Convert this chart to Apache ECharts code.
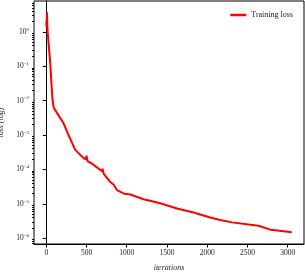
<!DOCTYPE html>
<html><head><meta charset="utf-8">
<script src="https://cdn.jsdelivr.net/npm/echarts@6/dist/echarts.min.js"></script>
<style>html,body{margin:0;padding:0;background:#fff}#c{width:305px;height:273px}</style>
</head><body><div id="c"></div>
<script>
// ---- data ----
const iterations = [0, 4, 8, 16, 50, 75, 91, 112, 174, 215, 277, 360, 463, 490, 500, 512, 568, 692, 700, 712, 795, 836, 878, 960, 1043, 1209, 1416, 1624, 1830, 2037, 2161, 2307, 2637, 2783, 2900, 3050];
const trainingLoss = [2.0, 1.35, 3.7, 1.05, 0.118, 0.0124, 0.0064, 0.0053, 0.0031, 0.0022, 1.0e-3, 3.7e-4, 2.14e-4, 1.95e-4, 2.5e-4, 1.75e-4, 1.47e-4, 8.8e-5, 1.05e-4, 7.6e-5, 4.3e-5, 3.65e-5, 2.5e-5, 2.0e-5, 1.87e-5, 1.35e-5, 1.04e-5, 7.3e-6, 5.6e-6, 4.0e-6, 3.38e-6, 2.88e-6, 2.3e-6, 1.77e-6, 1.65e-6, 1.49e-6];
const xTicks = [0, 500, 1000, 1500, 2000, 2500, 3000];
const yTickExponents = [-6, -5, -4, -3, -2, -1, 0];
const seriesName = 'Training loss';

const yTicks = yTickExponents.map(e => Math.pow(10, e));
const yMinorTicks = [];
for (let e = -7; e <= 0; e++) for (let k = 2; k <= 9; k++) yMinorTicks.push(k * Math.pow(10, e));
const yMin = Math.pow(10, -6.17), yMax = Math.pow(10, 0.9);
const FONT = 'Liberation Serif';
const TXT = '#222';

const chart = echarts.init(document.getElementById('c'), null, {renderer: 'canvas'});
chart.setOption({
  animation: false,
  backgroundColor: '#fff',
  grid: {left: 34, right: 1, top: 1, bottom: 29, containLabel: false, outerBoundsMode: 'none',
         show: true, borderColor: '#000', borderWidth: 1, backgroundColor: 'transparent'},
  legend: {
    data: [seriesName], right: 7, top: 6, icon: 'rect', itemWidth: 16, itemHeight: 2.5,
    textStyle: {fontFamily: FONT, fontSize: 8, color: TXT}
  },
  xAxis: {
    type: 'value', min: -152.5, max: 3202.5,
    axisLine: {onZero: false, lineStyle: {color: '#000', width: 1}},
    axisTick: {customValues: xTicks, length: 3.5, lineStyle: {color: '#000'}},
    axisLabel: {customValues: xTicks, formatter: v => String(v), fontFamily: FONT, fontSize: 7.5, color: TXT, margin: 5},
    splitLine: {show: false},
    name: 'iterations', nameLocation: 'middle', nameGap: 20,
    nameTextStyle: {fontFamily: FONT, fontStyle: 'italic', fontSize: 8, color: TXT}
  },
  yAxis: [{
    type: 'log', min: yMin, max: yMax,
    axisLine: {lineStyle: {color: '#000', width: 1}},
    axisTick: {customValues: yTicks, length: 3.5, lineStyle: {color: '#000'}},
    axisLabel: {
      customValues: yTicks, margin: 5,
      formatter: v => '{b|10}{s|' + String(Math.round(Math.log10(v))).replace('-', '−') + '}',
      rich: {
        b: {fontFamily: FONT, fontSize: 7.5, color: TXT},
        s: {fontFamily: FONT, fontSize: 5, color: TXT, padding: [0, 0, 5, 0]}
      }
    },
    splitLine: {show: false},
    name: 'loss (log)', nameLocation: 'middle', nameGap: 23, nameRotate: 90,
    nameTextStyle: {fontFamily: FONT, fontStyle: 'italic', fontSize: 8, color: TXT}
  }, {
    type: 'log', min: yMin, max: yMax, position: 'left', offset: 0,
    axisLine: {show: false},
    axisTick: {customValues: yMinorTicks, length: 2, lineStyle: {color: '#000'}},
    axisLabel: {show: false},
    splitLine: {show: false}
  }],
  series: [{
    name: seriesName, type: 'line', yAxisIndex: 0,
    data: iterations.map((x, i) => [x, trainingLoss[i]]),
    showSymbol: false, symbol: 'none',
    color: '#ff0000',
    lineStyle: {color: '#ff0000', width: 2}
  }]
});
</script></body></html>
